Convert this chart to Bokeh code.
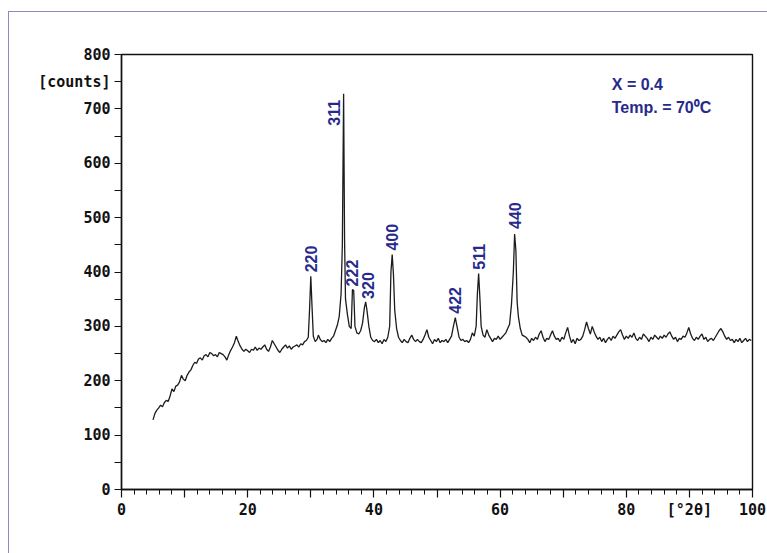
import math
from bokeh.plotting import figure
from bokeh.models import Range1d, FixedTicker, ColumnDataSource, Label
from bokeh.core.properties import value
from bokeh.embed import file_html
from bokeh.resources import INLINE

# Diffractogram: X = 0.4, synthesis temperature 70 C
two_theta = [
    5.0, 5.3, 5.6, 5.9, 6.2, 6.5, 6.8, 7.1, 7.4, 7.7, 8.0, 8.3, 8.6, 8.9, 9.2, 9.5, 9.8,
    10.1, 10.4, 10.7, 11.0, 11.3, 11.6, 11.9, 12.2, 12.5, 12.8, 13.1, 13.4, 13.7, 14.0,
    14.3, 14.6, 14.9, 15.2, 15.5, 15.8, 16.1, 16.4, 16.7, 17.0, 17.3, 17.6, 17.9, 18.2,
    18.5, 18.8, 19.1, 19.4, 19.7, 20.0, 20.3, 20.6, 20.9, 21.2, 21.5, 21.8, 22.1, 22.4,
    22.7, 23.0, 23.3, 23.6, 23.9, 24.2, 24.5, 24.8, 25.1, 25.4, 25.7, 26.0, 26.3, 26.6,
    26.9, 27.2, 27.5, 27.8, 28.1, 28.4, 28.7, 29.0, 29.3, 29.6, 29.8, 30.0, 30.2, 30.4,
    30.7, 31.0, 31.2, 31.5, 31.8, 32.1, 32.4, 32.7, 33.0, 33.3, 33.6, 33.9, 34.2, 34.5,
    34.8, 35.0, 35.2, 35.35, 35.5, 35.8, 36.1, 36.4, 36.6, 36.8, 37.0, 37.3, 37.6, 37.9,
    38.2, 38.5, 38.7, 38.9, 39.2, 39.5, 39.8, 40.1, 40.4, 40.7, 41.0, 41.3, 41.6, 41.9,
    42.2, 42.5, 42.7, 42.9, 43.1, 43.3, 43.6, 43.9, 44.2, 44.5, 44.8, 45.1, 45.4, 45.7,
    46.0, 46.3, 46.6, 46.9, 47.2, 47.5, 47.8, 48.1, 48.4, 48.7, 49.0, 49.3, 49.6, 49.9,
    50.2, 50.5, 50.8, 51.1, 51.4, 51.7, 52.0, 52.3, 52.6, 52.9, 53.2, 53.5, 53.8, 54.1,
    54.4, 54.7, 55.0, 55.3, 55.6, 55.9, 56.2, 56.4, 56.6, 56.8, 57.0, 57.3, 57.6, 57.9,
    58.2, 58.5, 58.8, 59.1, 59.4, 59.7, 60.0, 60.3, 60.6, 60.9, 61.2, 61.5, 61.8, 62.1,
    62.3, 62.5, 62.7, 62.9, 63.2, 63.5, 63.8, 64.1, 64.4, 64.7, 65.0, 65.3, 65.6, 65.9,
    66.2, 66.5, 66.8, 67.1, 67.4, 67.7, 68.0, 68.3, 68.6, 68.9, 69.2, 69.5, 69.8, 70.1,
    70.4, 70.7, 71.0, 71.3, 71.6, 71.9, 72.2, 72.5, 72.8, 73.1, 73.4, 73.7, 74.0, 74.3,
    74.6, 74.9, 75.2, 75.5, 75.8, 76.1, 76.4, 76.7, 77.0, 77.3, 77.6, 77.9, 78.2, 78.5,
    78.8, 79.1, 79.4, 79.7, 80.0, 80.3, 80.6, 80.9, 81.2, 81.5, 81.8, 82.1, 82.4, 82.7,
    83.0, 83.3, 83.6, 83.9, 84.2, 84.5, 84.8, 85.1, 85.4, 85.7, 86.0, 86.3, 86.6, 86.9,
    87.2, 87.5, 87.8, 88.1, 88.4, 88.7, 89.0, 89.3, 89.6, 89.9, 90.2, 90.5, 90.8, 91.1,
    91.4, 91.7, 92.0, 92.3, 92.6, 92.9, 93.2, 93.5, 93.8, 94.1, 94.4, 94.7, 95.0, 95.3,
    95.6, 95.9, 96.2, 96.5, 96.8, 97.1, 97.4, 97.7, 98.0, 98.3, 98.6, 98.9, 99.2, 99.5,
    99.8,
]
counts = [
    128, 140, 146, 150, 155, 152, 160, 164, 162, 172, 185, 180, 190, 192, 198, 210, 203,
    200, 210, 216, 220, 228, 234, 232, 240, 242, 238, 246, 248, 244, 252,
    250, 246, 248, 244, 252, 250, 248, 244, 238, 248, 256, 262, 270, 282,
    272, 264, 258, 254, 258, 255, 252, 258, 256, 262, 256, 260, 258, 262,
    266, 258, 254, 262, 274, 268, 262, 256, 252, 258, 262, 266, 260, 264,
    258, 262, 264, 266, 262, 268, 266, 272, 274, 280, 330, 392, 335, 282,
    272, 276, 284, 276, 272, 274, 270, 276, 272, 278, 282, 292, 302, 318,
    360, 450, 728, 460, 350, 322, 300, 296, 368, 366, 300, 288, 286, 292,
    306, 335, 345, 330, 300, 280, 274, 272, 276, 270, 274, 268, 276, 272,
    280, 300, 400, 432, 395, 330, 296, 280, 274, 270, 276, 272, 270, 278,
    284, 276, 272, 276, 272, 270, 276, 284, 294, 280, 274, 268, 276, 272,
    278, 270, 274, 272, 276, 270, 276, 282, 300, 316, 298, 280, 274, 276,
    272, 274, 270, 276, 288, 282, 300, 360, 397, 352, 300, 284, 280, 294,
    284, 278, 272, 278, 276, 282, 276, 280, 284, 288, 296, 304, 340, 400,
    470, 440, 345, 318, 296, 284, 282, 280, 276, 270, 278, 274, 280, 276,
    286, 292, 280, 272, 278, 276, 284, 292, 282, 276, 278, 272, 280, 276,
    288, 298, 282, 270, 276, 268, 278, 274, 276, 282, 294, 308, 296, 286,
    300, 290, 282, 276, 280, 272, 278, 270, 276, 280, 274, 282, 278, 284,
    290, 294, 284, 276, 282, 278, 284, 280, 288, 278, 274, 280, 276, 286,
    282, 278, 272, 280, 276, 284, 280, 276, 282, 278, 284, 280, 286, 290,
    282, 276, 280, 272, 278, 276, 282, 280, 288, 298, 286, 278, 274, 280,
    276, 282, 286, 276, 280, 272, 276, 278, 274, 280, 286, 292, 296, 290,
    282, 276, 280, 274, 276, 270, 276, 272, 278, 270, 274, 278, 272, 276,
    274,
]

# Indexed reflections (hkl) with their peak positions and heights
hkl = ["220", "311", "222", "320", "400", "422", "511", "440"]
peak_theta = [30.0, 35.2, 36.6, 38.7, 42.9, 52.9, 56.6, 62.3]
peak_counts = [392, 728, 368, 345, 432, 316, 397, 470]

x_ticks = [0, 10, 20, 30, 40, 50, 60, 70, 80, 90, 100]
x_tick_labels = {0: "0", 20: "20", 40: "40", 60: "60", 80: "80", 90: "[°2θ]", 100: "100"}
y_ticks = list(range(0, 801, 50))
y_tick_labels = {0: "0", 100: "100", 200: "200", 300: "300", 400: "400",
                 500: "500", 600: "600", 700: "700", 750: "[counts]", 800: "800"}

# thin page border along the left and top edges, painted behind a transparent canvas
border_css = ("linear-gradient(#8a8ac4, #8a8ac4) 8px 11px / 1px 100% no-repeat, "
              "linear-gradient(#8a8ac4, #8a8ac4) 8px 11px / 100% 1px no-repeat, white")

p = figure(width=767, height=553, output_backend="svg", toolbar_location=None,
           x_range=Range1d(0, 100), y_range=Range1d(0, 800),
           min_border_left=121, min_border_right=15, min_border_top=54, min_border_bottom=64,
           styles={"background": border_css})
p.grid.visible = False
p.background_fill_alpha = 0
p.border_fill_alpha = 0
p.outline_line_color = "#111111"
p.outline_line_width = 1.4

xa = p.xaxis[0]
xa.ticker = FixedTicker(ticks=x_ticks, minor_ticks=[t for t in range(0, 101, 2) if t % 10])
xa.major_label_overrides = {t: x_tick_labels.get(t, "") for t in x_ticks}
xa.major_tick_out = 8
xa.major_tick_in = 0
xa.minor_tick_out = 5
xa.minor_tick_in = 0
xa.major_label_standoff = 3

ya = p.yaxis[0]
ya.ticker = FixedTicker(ticks=y_ticks, minor_ticks=[])
ya.major_label_overrides = {t: y_tick_labels.get(t, "") for t in y_ticks}
ya.major_tick_out = 7
ya.major_tick_in = 0
ya.major_label_standoff = 4

for ax in (xa, ya):
    ax.axis_line_color = "#111111"
    ax.axis_line_width = 1.4
    ax.major_tick_line_color = "#111111"
    ax.major_tick_line_width = 1.2
    ax.minor_tick_line_color = "#111111"
    ax.minor_tick_line_width = 1.0
    ax.major_label_text_font = "DejaVu Sans Mono"
    ax.major_label_text_font_style = "bold"
    ax.major_label_text_font_size = "15px"
    ax.major_label_text_color = "#111111"

p.line(two_theta, counts, line_color="#1c1c1c", line_width=1.3)

# Reflection labels, rotated to read upward from just above each peak
label_dx = [0, -10, 0, 2, 0, 0, 0, 0]
label_dy = [-4, 32, -3, -3, -4, -4, -4, -5]
src = ColumnDataSource(dict(x=peak_theta, y=peak_counts, t=hkl, dx=label_dx, dy=label_dy))
p.text(x="x", y="y", text="t", source=src, angle=math.pi / 2,
       x_offset="dx", y_offset="dy", text_align="left", text_baseline="middle",
       text_font=value("Liberation Sans"), text_font_style="bold",
       text_font_size="16px", text_color="#262a8a")

for txt, yy in (("X = 0.4", 744), ("Temp. = 70\u2070C", 702)):
    p.add_layout(Label(x=77.7, y=yy, text=txt, text_font="Liberation Sans",
                       text_font_style="bold", text_font_size="16px",
                       text_color="#262a8a", text_baseline="alphabetic"))

open("out.html", "w").write(file_html(p, INLINE))
